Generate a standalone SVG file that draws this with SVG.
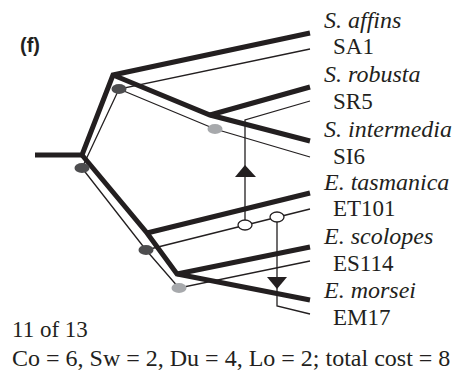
<svg xmlns="http://www.w3.org/2000/svg" width="460" height="376" viewBox="0 0 460 376">
<defs>
<style>
.sp{fill:none;stroke:#231f20;stroke-width:5;stroke-linejoin:miter;stroke-linecap:butt}
.gt{fill:none;stroke:#231f20;stroke-width:1.3}
.dk{fill:#4d4d4f}
.lt{fill:#a7a9ac}
.op{fill:#fff;stroke:#231f20;stroke-width:1.3}
.ar{fill:#231f20}
</style>
</defs>
<rect width="460" height="376" fill="#fff"/>
<text x="20" y="52" font-family="Liberation Sans, Arial, sans-serif" font-weight="bold" font-size="20" fill="#231f20">(f)</text>
<g id="connectors">
<g id="species-tree">
<polyline class="sp" points="35,155 82,155 113,75 310,33"/>
<polyline class="sp" points="113,75 210,115 310,141"/>
<line class="sp" x1="210" y1="115" x2="310" y2="87"/>
<polyline class="sp" points="82,155 147,233 177,274 310,300"/>
<line class="sp" x1="147" y1="233" x2="310" y2="193"/>
<line class="sp" x1="177" y1="274" x2="310" y2="247"/>
</g>
<g id="gene-tree">
<polyline class="gt" points="82,168 119,89 310,49"/>
<polyline class="gt" points="119,89 215,129 310,157"/>
<polyline class="gt" points="82,168 146,250 179,288 310,261"/>
<line class="gt" x1="146" y1="250" x2="310" y2="209"/>
<polyline class="gt" points="245,226 245,120 310,101"/>
<polyline class="gt" points="277,217 277,306 310,314"/>
<polygon class="ar" points="245,165 235,177 256,177"/>
<polygon class="ar" points="267,277 287,277 277,289"/>
</g>
</g>
<g id="events">
<ellipse id="e1" class="dk" cx="82" cy="168" rx="7.5" ry="5"/>
<ellipse id="e2" class="dk" cx="119" cy="89" rx="7.5" ry="5"/>
<ellipse id="e3" class="lt" cx="215" cy="129" rx="7.5" ry="5"/>
<ellipse id="e4" class="dk" cx="146" cy="250" rx="7.5" ry="5"/>
<ellipse id="e5" class="lt" cx="179" cy="288" rx="7.5" ry="5"/>
<ellipse id="e6" class="op" cx="245" cy="225" rx="7" ry="5"/>
<ellipse id="e7" class="op" cx="277" cy="217" rx="7" ry="5"/>
</g>
<g id="labels" font-family="Liberation Serif, Times New Roman, serif" font-size="23" fill="#231f20">
<g id="SA"><text x="324" y="28" font-style="italic" font-size="24">S. affins</text><text x="333" y="54">SA1</text></g>
<g id="SR"><text x="324" y="82" font-style="italic" font-size="24">S. robusta</text><text x="333" y="109">SR5</text></g>
<g id="SI"><text x="324" y="137" font-style="italic" font-size="24">S. intermedia</text><text x="333" y="164">SI6</text></g>
<g id="ET"><text x="324" y="190" font-style="italic" font-size="24">E. tasmanica</text><text x="333" y="216">ET101</text></g>
<g id="ES"><text x="324" y="244" font-style="italic" font-size="24">E. scolopes</text><text x="333" y="271">ES114</text></g>
<g id="EM"><text x="324" y="298" font-style="italic" font-size="24">E. morsei</text><text x="333" y="325">EM17</text></g>
</g>
<g id="footer" font-family="Liberation Serif, Times New Roman, serif" fill="#231f20">
<text x="12" y="337" font-size="23">11 of 13</text>
<text x="12" y="366" font-size="24">Co = 6, Sw = 2, Du = 4, Lo = 2; total cost = 8</text>
</g>
</svg>
